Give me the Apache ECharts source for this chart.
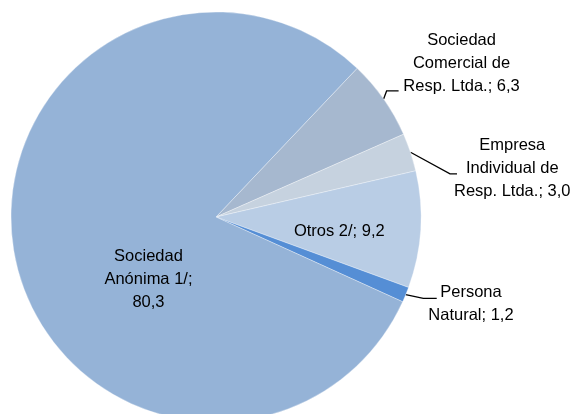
<!DOCTYPE html>
<html><head><meta charset="utf-8">
<script src="https://cdn.jsdelivr.net/npm/echarts@6/dist/echarts.min.js"></script>
<style>html,body{margin:0;padding:0;background:#fff}#c{width:572px;height:414px}</style>
</head><body><div id="c"></div>
<script>
// ---- data ----
const categories = ['Sociedad\nComercial de\nResp. Ltda.', 'Empresa\nIndividual de\nResp. Ltda.', 'Otros 2/', 'Persona\nNatural', 'Sociedad\nAnónima 1/'];
const values = [6.3, 3.0, 9.2, 1.2, 80.3];
const colors = ['#A6B8CF', '#C6D2DF', '#B9CDE5', '#558ED5', '#95B3D7'];
const valueOnNewLine = [false, false, false, false, true];
const labelInside = [false, false, true, false, true];

// ---- label placement tweaks (relative to library-computed anchors) ----
const insideShift = [null, null, [18, 8], null, [36, 42]];
const outsideCfg = [
  { elbow: [3, -8], end: [15, -8], text: [19.7, -35.5] },
  { elbow: [39.5, 21.7], end: [46.5, 21.7], text: [43.5, 16.7] },
  null,
  { elbow: [17.6, 3.7], end: [31, 3.7], text: [22.6, 9] },
  null
];

const FONT = '"Liberation Sans", Arial, sans-serif';
const fmt = v => v.toFixed(1).replace('.', ',');

const chart = echarts.init(document.getElementById('c'), null, { renderer: 'canvas' });
chart.setOption({
  animation: false,
  backgroundColor: '#fff',
  series: [{
    type: 'pie',
    center: [216, 217],
    radius: 205,
    startAngle: 46.5,
    clockwise: true,
    avoidLabelOverlap: false,
    silent: true,
    data: values.map((v, i) => ({
      value: v,
      name: categories[i],
      itemStyle: { color: colors[i] },
      label: { position: labelInside[i] ? 'inside' : 'outside' },
      labelLine: { show: !labelInside[i] }
    })),
    itemStyle: { borderColor: 'rgba(255,255,255,0.55)', borderWidth: 0.6 },
    label: {
      show: true,
      color: '#000',
      fontFamily: FONT,
      fontSize: 16.5,
      lineHeight: 23,
      formatter: p => p.name + ';' + (valueOnNewLine[p.dataIndex] ? '\n' : ' ') + fmt(p.value)
    },
    labelLine: { show: true, length: 0, length2: 0, lineStyle: { color: '#000', width: 1.3 } },
    emphasis: { disabled: true },
    labelLayout: function (p) {
      const i = p.dataIndex;
      const r = p.labelRect;
      if (labelInside[i]) {
        const s = insideShift[i];
        return { x: r.x + r.width / 2 + s[0], y: r.y + r.height / 2 + s[1], align: 'center', verticalAlign: 'middle' };
      }
      const c = outsideCfg[i];
      const e = p.labelLinePoints[0];
      return {
        x: e[0] + c.text[0] + r.width / 2,
        y: e[1] + c.text[1],
        align: 'center',
        verticalAlign: 'middle',
        labelLinePoints: [
          [e[0], e[1]],
          [e[0] + c.elbow[0], e[1] + c.elbow[1]],
          [e[0] + c.end[0], e[1] + c.end[1]]
        ]
      };
    }
  }]
});
</script></body></html>
